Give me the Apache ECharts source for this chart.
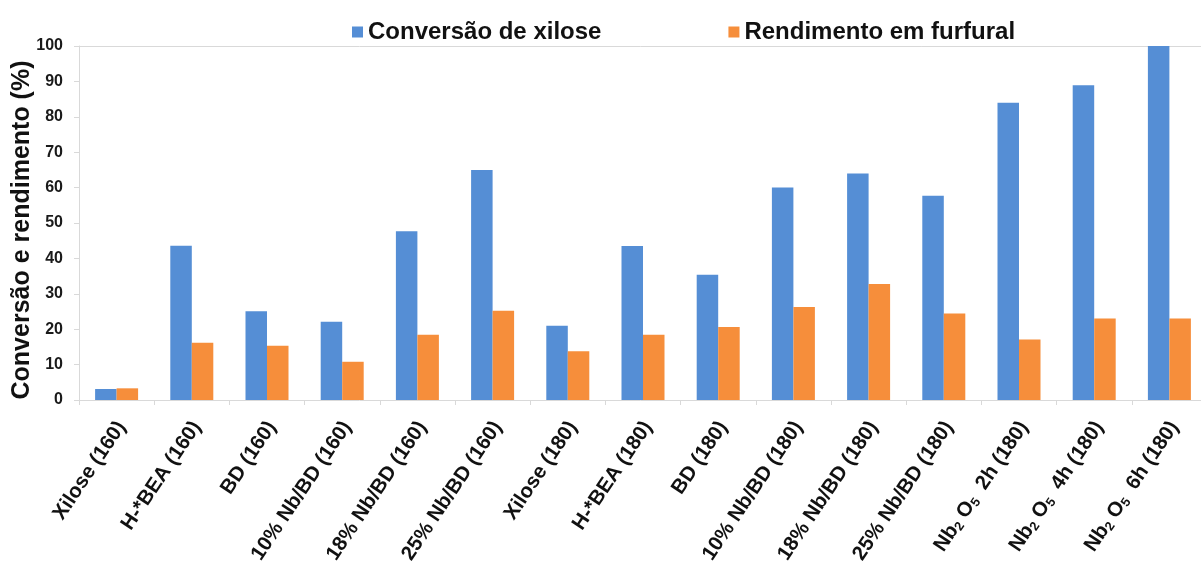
<!DOCTYPE html>
<html>
<head>
<meta charset="utf-8">
<script src="https://cdn.jsdelivr.net/npm/echarts@6/dist/echarts.min.js"></script>
<style>
    html,body{margin:0;padding:0;background:#fff;}
    #chart1{width:1201px;height:561px;}
</style>
</head>
<body>
<div id="chart1"></div>
<script>
var categories = ['Xilose (160)', 'H-*BEA (160)', 'BD (160)', '10% Nb/BD (160)', '18% Nb/BD (160)', '25% Nb/BD (160)',
    'Xilose (180)', 'H-*BEA (180)', 'BD (180)', '10% Nb/BD (180)', '18% Nb/BD (180)', '25% Nb/BD (180)',
    'Nb2O5  2h (180)', 'Nb2O5  4h (180)', 'Nb2O5  6h (180)'];
var conversao = [3.1, 43.6, 25.1, 22.1, 47.7, 65, 21, 43.5, 35.4, 60, 64, 57.7, 84, 88.9, 100];
var rendimento = [3.3, 16.2, 15.3, 10.8, 18.4, 25.2, 13.8, 18.4, 20.6, 26.3, 32.8, 24.4, 17.1, 23, 23];
var yTicks = {min: 0, max: 100, interval: 10};

var font = '"Liberation Sans", Arial, sans-serif';
var gridLine = {lineStyle: {color: "#d9d9d9", width: 1}};

var chart1 = echarts.init(document.getElementById("chart1"));
option = {
    animation: false,
    legend: {
        left: 347,
        top: 15,
        itemWidth: 11,
        itemHeight: 11,
        itemGap: 127,
        icon: "rect",
        textStyle: {
            fontFamily: font,
            fontWeight: "bold",
            fontSize: 24,
            color: "#111"
        },
        data: ["Conversão de xilose", "Rendimento em furfural"]
    },
    grid: {
        left: 79,
        right: -6,
        top: 46,
        bottom: 161,
        outerBoundsMode: "none"
    },
    xAxis: [
        {
            type: "category",
            data: categories,
            axisLine: gridLine,
            axisTick: {show: true, length: 5, lineStyle: {color: "#d9d9d9"}},
            axisLabel: {
                interval: 0,
                rotate: 56,
                margin: 20,
                padding: [12, 0, 0, 0],
                fontFamily: font,
                fontWeight: "bold",
                fontSize: 20.5,
                color: "#111",
                formatter: function (v) {
                    return v.replace("Nb2O5", "Nb{s|2} O{s|5}");
                },
                rich: {
                    s: {
                        fontFamily: font,
                        fontWeight: "bold",
                        fontSize: 13,
                        color: "#111",
                        padding: [9, 0, 0, 0]
                    }
                }
            }
        },
        {
            // top border line at 100
            type: "category",
            position: "top",
            data: categories,
            axisLine: gridLine,
            axisTick: {show: false},
            axisLabel: {show: false}
        }
    ],
    yAxis: {
        type: "value",
        min: yTicks.min,
        max: yTicks.max,
        interval: yTicks.interval,
        name: "Conversão e rendimento (%)",
        nameLocation: "middle",
        nameMoveOverlap: false,
        nameGap: 44,
        nameTextStyle: {
            fontFamily: font,
            fontWeight: "bold",
            fontSize: 25,
            color: "#111",
            padding: [0, 14, 0, 0]
        },
        axisLine: {show: true, lineStyle: {color: "#d9d9d9"}},
        axisTick: {show: true, length: 5, lineStyle: {color: "#d9d9d9"}},
        axisLabel: {
            margin: 16,
            fontFamily: font,
            fontWeight: "bold",
            fontSize: 16,
            color: "#1a1a1a"
        },
        splitLine: {show: false}
    },
    series: [
        {
            name: "Conversão de xilose",
            type: "bar",
            barWidth: 21.5,
            barGap: 0,
            itemStyle: {color: "#558ED5"},
            data: conversao
        },
        {
            name: "Rendimento em furfural",
            type: "bar",
            barWidth: 21.5,
            barGap: 0,
            itemStyle: {color: "#F68E3B"},
            data: rendimento
        }
    ]
};
chart1.setOption(option);
</script>
</body>
</html>
